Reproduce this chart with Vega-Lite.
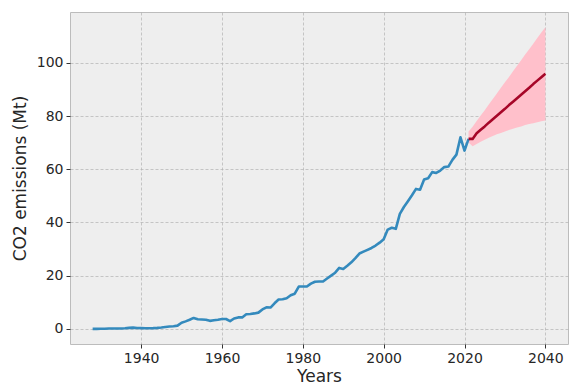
{
  "$schema": "https://vega.github.io/schema/vega-lite/v6.json",
  "autosize": {"type": "none"},
  "width": 498,
  "height": 332,
  "padding": {"left": 70, "top": 12, "right": 2, "bottom": 41},
  "background": "white",
  "config": {
    "view": {"fill": "#eeeeee", "stroke": "#bcbcbc", "strokeWidth": 1},
    "font": "DejaVu Sans",
    "axis": {
      "domain": false,
      "grid": true,
      "gridColor": "#b2b2b2",
      "gridDash": [3, 2],
      "gridWidth": 0.7,
      "ticks": true,
      "tickSize": 4,
      "tickColor": "#333333",
      "tickWidth": 1,
      "labelFont": "DejaVu Sans",
      "labelFontSize": 14,
      "labelColor": "#262626",
      "labelPadding": 3,
      "titleFont": "DejaVu Sans",
      "titleFontSize": 17,
      "titleFontWeight": "normal",
      "titleColor": "#262626"
    }
  },
  "datasets": {
    "history": [
      {"year": 1928, "co2": 0.0}, {"year": 1929, "co2": 0.0}, {"year": 1930, "co2": 0.05},
      {"year": 1931, "co2": 0.05}, {"year": 1932, "co2": 0.1}, {"year": 1933, "co2": 0.1},
      {"year": 1934, "co2": 0.1}, {"year": 1935, "co2": 0.15}, {"year": 1936, "co2": 0.2},
      {"year": 1937, "co2": 0.35}, {"year": 1938, "co2": 0.45}, {"year": 1939, "co2": 0.3},
      {"year": 1940, "co2": 0.25}, {"year": 1941, "co2": 0.2}, {"year": 1942, "co2": 0.2},
      {"year": 1943, "co2": 0.25}, {"year": 1944, "co2": 0.35}, {"year": 1945, "co2": 0.5},
      {"year": 1946, "co2": 0.7}, {"year": 1947, "co2": 0.85}, {"year": 1948, "co2": 1.0},
      {"year": 1949, "co2": 1.2}, {"year": 1950, "co2": 2.3}, {"year": 1951, "co2": 2.8},
      {"year": 1952, "co2": 3.4}, {"year": 1953, "co2": 4.1}, {"year": 1954, "co2": 3.6},
      {"year": 1955, "co2": 3.5}, {"year": 1956, "co2": 3.4}, {"year": 1957, "co2": 3.0},
      {"year": 1958, "co2": 3.2}, {"year": 1959, "co2": 3.4}, {"year": 1960, "co2": 3.7},
      {"year": 1961, "co2": 3.7}, {"year": 1962, "co2": 2.9}, {"year": 1963, "co2": 3.9},
      {"year": 1964, "co2": 4.3}, {"year": 1965, "co2": 4.3}, {"year": 1966, "co2": 5.5},
      {"year": 1967, "co2": 5.6}, {"year": 1968, "co2": 5.8}, {"year": 1969, "co2": 6.1},
      {"year": 1970, "co2": 7.3}, {"year": 1971, "co2": 8.1}, {"year": 1972, "co2": 8.0},
      {"year": 1973, "co2": 9.6}, {"year": 1974, "co2": 11.0}, {"year": 1975, "co2": 11.1},
      {"year": 1976, "co2": 11.5}, {"year": 1977, "co2": 12.6}, {"year": 1978, "co2": 13.2},
      {"year": 1979, "co2": 15.9}, {"year": 1980, "co2": 15.9}, {"year": 1981, "co2": 15.9},
      {"year": 1982, "co2": 17.0}, {"year": 1983, "co2": 17.7}, {"year": 1984, "co2": 17.8},
      {"year": 1985, "co2": 17.8}, {"year": 1986, "co2": 18.9}, {"year": 1987, "co2": 20.0},
      {"year": 1988, "co2": 21.1}, {"year": 1989, "co2": 22.9}, {"year": 1990, "co2": 22.5},
      {"year": 1991, "co2": 23.7}, {"year": 1992, "co2": 25.0}, {"year": 1993, "co2": 26.6},
      {"year": 1994, "co2": 28.3}, {"year": 1995, "co2": 29.0}, {"year": 1996, "co2": 29.7},
      {"year": 1997, "co2": 30.4}, {"year": 1998, "co2": 31.3}, {"year": 1999, "co2": 32.4},
      {"year": 2000, "co2": 33.7}, {"year": 2001, "co2": 37.3}, {"year": 2002, "co2": 38.0},
      {"year": 2003, "co2": 37.6}, {"year": 2004, "co2": 43.2}, {"year": 2005, "co2": 45.8},
      {"year": 2006, "co2": 48.0}, {"year": 2007, "co2": 50.2}, {"year": 2008, "co2": 52.6},
      {"year": 2009, "co2": 52.3}, {"year": 2010, "co2": 56.1}, {"year": 2011, "co2": 56.6},
      {"year": 2012, "co2": 58.9}, {"year": 2013, "co2": 58.6}, {"year": 2014, "co2": 59.5},
      {"year": 2015, "co2": 60.8}, {"year": 2016, "co2": 61.0}, {"year": 2017, "co2": 63.5},
      {"year": 2018, "co2": 65.5}, {"year": 2019, "co2": 72.0}, {"year": 2020, "co2": 67.0},
      {"year": 2021, "co2": 71.4}
    ],
    "forecast": [
      {"year": 2021, "mean": 71.4, "lower": 70.0, "upper": 74.2},
      {"year": 2022, "mean": 71.4, "lower": 68.6, "upper": 76.0},
      {"year": 2023, "mean": 73.5, "lower": 69.5, "upper": 78.1},
      {"year": 2024, "mean": 74.8, "lower": 70.3, "upper": 80.2},
      {"year": 2025, "mean": 76.1, "lower": 71.1, "upper": 82.2},
      {"year": 2026, "mean": 77.5, "lower": 71.8, "upper": 84.3},
      {"year": 2027, "mean": 78.8, "lower": 72.5, "upper": 86.4},
      {"year": 2028, "mean": 80.1, "lower": 73.1, "upper": 88.5},
      {"year": 2029, "mean": 81.4, "lower": 73.6, "upper": 90.6},
      {"year": 2030, "mean": 82.7, "lower": 74.2, "upper": 92.7},
      {"year": 2031, "mean": 84.1, "lower": 74.7, "upper": 94.7},
      {"year": 2032, "mean": 85.4, "lower": 75.2, "upper": 96.8},
      {"year": 2033, "mean": 86.7, "lower": 75.7, "upper": 98.9},
      {"year": 2034, "mean": 88.0, "lower": 76.1, "upper": 101.0},
      {"year": 2035, "mean": 89.3, "lower": 76.6, "upper": 103.1},
      {"year": 2036, "mean": 90.6, "lower": 77.0, "upper": 105.1},
      {"year": 2037, "mean": 92.0, "lower": 77.3, "upper": 107.2},
      {"year": 2038, "mean": 93.3, "lower": 77.7, "upper": 109.3},
      {"year": 2039, "mean": 94.6, "lower": 78.0, "upper": 111.4},
      {"year": 2040, "mean": 95.9, "lower": 78.3, "upper": 113.4}
    ]
  },
  "encoding": {
    "x": {
      "field": "year",
      "type": "quantitative",
      "title": "Years",
      "scale": {"domain": [1922.4, 2045.6], "nice": false, "zero": false},
      "axis": {"values": [1940, 1960, 1980, 2000, 2020, 2040], "format": "d", "titlePadding": 3}
    }
  },
  "layer": [
    {
      "data": {"name": "forecast"},
      "mark": {"type": "area", "color": "#ffc0cb", "opacity": 1},
      "encoding": {
        "y": {
          "field": "lower",
          "type": "quantitative",
          "title": "CO2 emissions (Mt)",
          "scale": {"domain": [-5.7, 119.1], "nice": false, "zero": false},
          "axis": {"values": [0, 20, 40, 60, 80, 100], "titlePadding": 7}
        },
        "y2": {"field": "upper"}
      }
    },
    {
      "data": {"name": "history"},
      "mark": {"type": "line", "color": "#348abd", "strokeWidth": 2.6, "strokeJoin": "round", "strokeCap": "butt"},
      "encoding": {"y": {"field": "co2", "type": "quantitative"}}
    },
    {
      "data": {"name": "forecast"},
      "mark": {"type": "line", "color": "#a60628", "strokeWidth": 2.6, "strokeJoin": "round", "strokeCap": "butt"},
      "encoding": {"y": {"field": "mean", "type": "quantitative"}}
    }
  ]
}
